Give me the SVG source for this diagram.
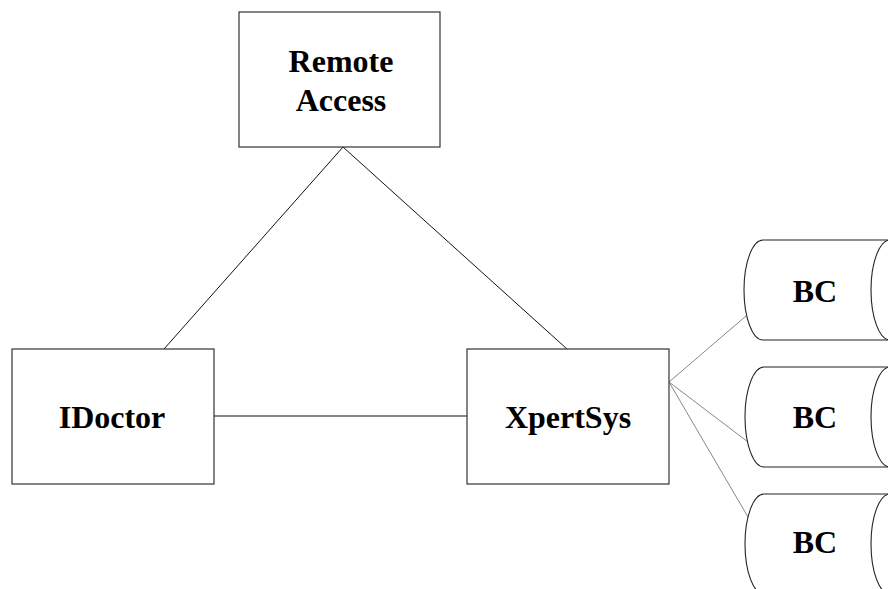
<svg xmlns="http://www.w3.org/2000/svg" width="888" height="589" viewBox="0 0 888 589">
  <style>
    .box { fill: #fff; stroke: #333; stroke-width: 1.2; }
    .store { fill: #fff; stroke: #222; stroke-width: 1.1; }
    .label { font-family: "Liberation Serif", "Times New Roman", serif; font-weight: bold; font-size: 32px; fill: #000; text-anchor: middle; }
    .link { stroke: #111; stroke-width: 1; fill: none; }
    .fan { stroke: #888; stroke-width: 1; fill: none; }
  </style>
  <rect width="888" height="589" fill="#fff"/>

  <g id="connectors">
    <line class="link" x1="343" y1="147" x2="164" y2="349"/>
    <line class="link" x1="343" y1="147" x2="567" y2="349"/>
    <line class="link" x1="214" y1="416" x2="467" y2="416"/>
    <line class="fan" x1="669" y1="382" x2="746" y2="316"/>
    <line class="fan" x1="669" y1="382" x2="748" y2="442"/>
    <line class="fan" x1="669" y1="382" x2="748" y2="517"/>
  </g>

  <g id="remote-access">
    <rect class="box" x="239" y="12" width="201" height="135"/>
    <text class="label" x="341" y="72">Remote</text>
    <text class="label" x="341" y="111">Access</text>
  </g>

  <g id="idoctor">
    <rect class="box" x="12" y="349" width="202" height="135"/>
    <text class="label" x="112" y="428">IDoctor</text>
  </g>

  <g id="xpertsys">
    <rect class="box" x="467" y="349" width="202" height="135"/>
    <text class="label" x="568" y="428">XpertSys</text>
  </g>

  <g id="bc-1">
    <path class="store" d="M763,240 H890 A19,50 0 0 1 890,340 H763 A19,50 0 0 1 763,240 Z"/>
    <path class="store" d="M890,240 A19,50 0 0 0 890,340"/>
    <text class="label" x="815" y="302">BC</text>
  </g>

  <g id="bc-2">
    <path class="store" d="M764,367 H890 A19,50 0 0 1 890,467 H764 A19,50 0 0 1 764,367 Z"/>
    <path class="store" d="M890,367 A19,50 0 0 0 890,467"/>
    <text class="label" x="815" y="428">BC</text>
  </g>

  <g id="bc-3">
    <path class="store" d="M764,494 H890 A19,50 0 0 1 890,594 H764 A19,50 0 0 1 764,494 Z"/>
    <path class="store" d="M890,494 A19,50 0 0 0 890,594"/>
    <text class="label" x="815" y="553">BC</text>
  </g>
</svg>
